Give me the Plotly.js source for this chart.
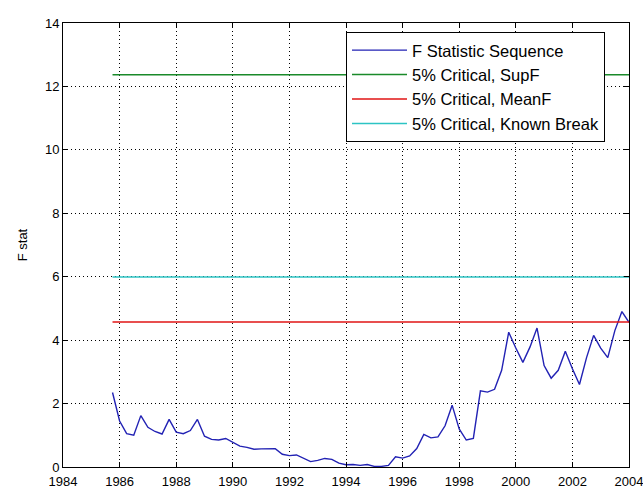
<!DOCTYPE html>
<html>
<head>
<meta charset="utf-8">
<script src="https://cdn.plot.ly/plotly-3.0.1.min.js"></script>
<style>
  html, body { margin: 0; padding: 0; background: #ffffff; }
  #chart { width: 643px; height: 490px; }
</style>
</head>
<body>
<div id="chart"></div>
<script>
// Quarterly sample dates, 1985Q4 .. 2004Q1
const startYear = 1985.75;
const nObs = 74;
const dates = [];
for (let k = 0; k < nObs; k++) dates.push(startYear + k * 0.25);

// Sequence of F statistics, one per candidate break date
const fStat = [
  2.35, 1.45, 1.05, 1.00, 1.62, 1.25, 1.12, 1.04, 1.50, 1.10,
  1.05, 1.15, 1.50, 0.97, 0.87, 0.85, 0.90, 0.78, 0.66, 0.62,
  0.56, 0.57, 0.58, 0.58, 0.40, 0.36, 0.38, 0.27, 0.17, 0.21,
  0.27, 0.24, 0.12, 0.07, 0.08, 0.05, 0.08, 0.02, 0.02, 0.05,
  0.32, 0.28, 0.35, 0.58, 1.03, 0.92, 0.95, 1.30, 1.95, 1.20,
  0.85, 0.90, 2.40, 2.36, 2.45, 3.05, 4.25, 3.75, 3.30, 3.78,
  4.38, 3.20, 2.80, 3.05, 3.65, 3.10, 2.60, 3.45, 4.15, 3.75,
  3.45, 4.30, 4.90, 4.56
];

// 5% critical values
const critSupF = 12.37;
const critMeanF = 4.57;
const critKnownBreak = 5.99;
const critSpan = [dates[0], dates[dates.length - 1]];

const xTicks = [1984, 1986, 1988, 1990, 1992, 1994, 1996, 1998, 2000, 2002, 2004];
const yTicks = [0, 2, 4, 6, 8, 10, 12, 14];

const flat = v => critSpan.map(() => v);

const traces = [
  { x: dates, y: fStat, name: 'F Statistic Sequence',
    mode: 'lines', line: { color: '#2222b4', width: 1.4 } },
  { x: critSpan, y: flat(critSupF), name: '5% Critical, SupF',
    mode: 'lines', line: { color: '#1a8a2a', width: 1.4 } },
  { x: critSpan, y: flat(critMeanF), name: '5% Critical, MeanF',
    mode: 'lines', line: { color: '#e01414', width: 1.4 } },
  { x: critSpan, y: flat(critKnownBreak), name: '5% Critical, Known Break',
    mode: 'lines', line: { color: '#2cc4c4', width: 1.6 } }
];

const tickFont = { family: 'Liberation Sans, Arial, sans-serif', size: 13, color: '#000000' };

const axisCommon = {
  showline: true, linecolor: '#000000', linewidth: 1, mirror: 'ticks',
  ticks: 'inside', ticklen: 5, tickcolor: '#000000', tickwidth: 1,
  showgrid: true, gridcolor: '#000000', gridwidth: 1, griddash: '1px,3px',
  zeroline: false, ticklabeloverflow: 'allow',
  tickfont: tickFont
};

const layout = {
  width: 643, height: 490,
  margin: { l: 63, r: 14, t: 23, b: 23 },
  paper_bgcolor: '#ffffff', plot_bgcolor: '#ffffff',
  showlegend: true,
  xaxis: Object.assign({}, axisCommon, {
    range: [1984, 2004], tickvals: xTicks, ticktext: xTicks.map(String),
    ticklabelstandoff: 2
  }),
  yaxis: Object.assign({}, axisCommon, {
    range: [0, 14], tickvals: yTicks, ticktext: yTicks.map(String),
    title: { text: 'F stat', standoff: 14, font: tickFont }
  }),
  legend: {
    x: 0.5, y: 0.98, xanchor: 'left', yanchor: 'top',
    bgcolor: '#ffffff', bordercolor: '#000000', borderwidth: 1,
    itemwidth: 55,
    font: { family: 'Liberation Sans, Arial, sans-serif', size: 16.5, color: '#000000' }
  }
};

Plotly.newPlot('chart', traces, layout, { staticPlot: true, displayModeBar: false });
</script>
</body>
</html>
